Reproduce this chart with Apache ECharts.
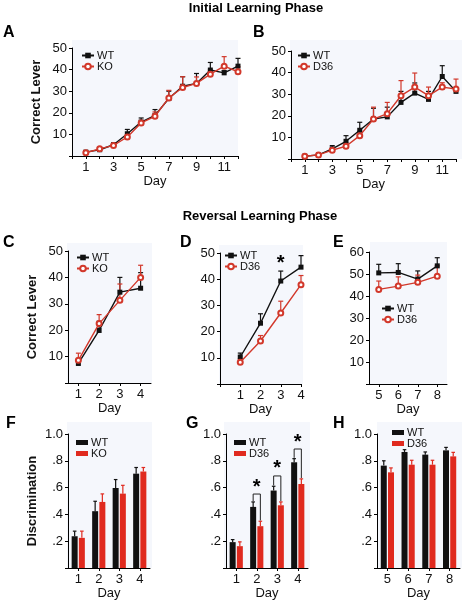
<!DOCTYPE html>
<html><head><meta charset="utf-8">
<script src="https://cdn.jsdelivr.net/npm/echarts@6/dist/echarts.min.js"></script>
<style>html,body{margin:0;padding:0;background:#fff}#c{width:464px;height:602px}</style>
</head><body><div id="c"></div>
<script>
// ---------- data ----------
const daysAB = [1,2,3,4,5,6,7,8,9,10,11,12];
const aWT    = [1.8,2.9,5.2,10.3,15.7,18.8,26.6,32.3,33.6,39.8,38.5,41.6];
const aWTerr = [0.5,0.4,0.8,2.0,1.9,2.7,3.4,4.4,4.6,3.5,1.0,3.6];
const aKO    = [1.5,3.3,4.9,8.8,15.3,18.4,26.9,31.7,33.6,37.9,41.6,39.0];
const aKOerr = [0.5,0.4,0.6,1.0,1.2,2.0,3.5,5.0,3.0,1.9,4.4,2.3];
const bWT    = [1.3,1.9,4.7,8.2,13.3,18.5,19.5,26.2,30.5,27.6,38.2,31.3];
const bWTerr = [0.3,0.3,1.5,2.6,3.7,5.0,4.5,5.1,4.7,3.7,5.0,1.0];
const bD36   = [1.3,1.9,4.1,5.9,10.8,18.5,21.0,29.3,33.3,29.3,33.3,32.4];
const bD36err= [0.3,0.3,0.8,1.6,2.0,5.5,5.2,7.0,6.5,4.0,2.0,4.6];
const revDays = ['1','2','3','4'];
const lateDays = ['5','6','7','8'];
const cWT    = [7.4,19.9,34.4,35.9];
const cWTerr = [1.0,3.5,5.6,5.9];
const cKO    = [8.6,22.5,31.3,40.0];
const cKOerr = [2.7,3.4,6.2,4.6];
const dDays  = [1,2,3,4];
const dWT    = [10.3,23.2,39.3,44.6];
const dWTerr = [1.5,3.6,3.8,4.4];
const dD36   = [8.3,16.4,27.1,37.9];
const dD36err= [1.3,2.1,4.5,3.5];
const dStar  = [[3,46]];
const eWT    = [50.5,50.7,47.7,53.7];
const eWTerr = [3.9,4.0,3.7,3.7];
const eD36   = [43.0,44.5,46.2,49.0];
const eD36err= [3.8,4.2,3.3,4.7];
const fWT    = [0.237,0.424,0.597,0.704];
const fWTerr = [0.038,0.074,0.063,0.046];
const fKO    = [0.225,0.493,0.555,0.720];
const fKOerr = [0.050,0.060,0.062,0.030];
const gWT    = [0.193,0.456,0.578,0.789];
const gWTerr = [0.019,0.037,0.032,0.027];
const gD36   = [0.163,0.312,0.468,0.627];
const gD36err= [0.032,0.037,0.025,0.038];
const gSigDay   = [1,2,3];            // category index of significant days
const gSigLevel = [0.552,0.687,0.888];
const hWT    = [0.764,0.866,0.846,0.878];
const hWTerr = [0.036,0.017,0.020,0.022];
const hD36   = [0.714,0.771,0.771,0.833];
const hD36err= [0.033,0.033,0.033,0.030];

// ---------- style ----------
const FONT = '"Liberation Sans", Arial, sans-serif';
const BLACK = '#111111';
const RED = '#d2382b';
const BARRED = '#e02a1f';
const BG = '#f5f7fc';
const BARW = 6, BARGAP = 1.2;

const grids = [
  {left:72,  top:48,  width:166, height:108},
  {left:291, top:51,  width:165, height:108},
  {left:68,  top:251, width:83,  height:132},
  {left:220, top:253, width:81,  height:131},
  {left:369, top:252, width:78,  height:132},
  {left:68,  top:434, width:82,  height:134},
  {left:226, top:434, width:82,  height:134},
  {left:377, top:434, width:83,  height:134}
];

function axisBase(gi, extra, fmt){
  const o = {
    gridIndex: gi,
    axisLine:{show:true, onZero:false, lineStyle:{color:'#000', width:1}},
    axisTick:{show:true, length:3, lineStyle:{color:'#000'}},
    axisLabel:{color:'#111', fontSize:13, fontFamily:FONT, margin:5},
    splitLine:{show:false},
    nameTextStyle:{color:'#111', fontSize:13, fontFamily:FONT}
  };
  if (fmt) o.axisLabel.formatter = fmt;
  return Object.assign(o, extra);
}
const oddOnly = v => (v % 2 === 1 ? String(v) : '');
const noZero = v => (v === 0 ? '' : String(v));
const discFmt = v => { const r = Math.round(v*10); if (r===0) return ''; if (r===10) return '1.0'; return '.' + r; };

const xAxes = [
  axisBase(0, {type:'value', min:0, max:12, interval:1, name:'Day', nameLocation:'middle', nameGap:18}, oddOnly),
  axisBase(1, {type:'value', min:0, max:12, interval:1, name:'Day', nameLocation:'middle', nameGap:18}, oddOnly),
  axisBase(2, {type:'category', data:revDays, boundaryGap:true, name:'Day', nameLocation:'middle', nameGap:17}),
  axisBase(3, {type:'value', min:0, max:4, interval:1, name:'Day', nameLocation:'middle', nameGap:17}, noZero),
  axisBase(4, {type:'category', data:lateDays, boundaryGap:true, name:'Day', nameLocation:'middle', nameGap:17}),
  axisBase(5, {type:'category', data:revDays, boundaryGap:true, name:'Day', nameLocation:'middle', nameGap:17}),
  axisBase(6, {type:'category', data:revDays, boundaryGap:true, name:'Day', nameLocation:'middle', nameGap:17}),
  axisBase(7, {type:'category', data:lateDays, boundaryGap:true, name:'Day', nameLocation:'middle', nameGap:17})
];
xAxes.forEach(a => { if (a.type === 'category') { a.axisTick.alignWithLabel = true; } });

const yAxes = [
  axisBase(0, {type:'value', min:0, max:50, interval:10, name:'Correct Lever', nameLocation:'middle', nameGap:29, nameTextStyle:{fontWeight:'bold', fontSize:13, fontFamily:FONT, color:'#111'}}, noZero),
  axisBase(1, {type:'value', min:0, max:50, interval:10}, noZero),
  axisBase(2, {type:'value', min:0, max:50, interval:10, name:'Correct Lever', nameLocation:'middle', nameGap:29, nameTextStyle:{fontWeight:'bold', fontSize:13, fontFamily:FONT, color:'#111'}}, noZero),
  axisBase(3, {type:'value', min:0, max:50, interval:10}, noZero),
  axisBase(4, {type:'value', min:0, max:60, interval:10}, noZero),
  axisBase(5, {type:'value', min:0, max:1, interval:0.2, name:'Discrimination', nameLocation:'middle', nameGap:29, nameTextStyle:{fontWeight:'bold', fontSize:13, fontFamily:FONT, color:'#111'}}, discFmt),
  axisBase(6, {type:'value', min:0, max:1, interval:0.2}, discFmt),
  axisBase(7, {type:'value', min:0, max:1, interval:0.2}, discFmt)
];

// ---------- series builders ----------
function lineSeries(name, gi, xs, ys, isWT){
  const data = xs ? ys.map((v,i)=>[xs[i], v]) : ys.slice();
  return {
    type:'line', name, xAxisIndex:gi, yAxisIndex:gi, data,
    symbol: isWT ? 'rect' : 'emptyCircle', symbolSize: 5,
    lineStyle:{color: isWT ? BLACK : RED, width:1.4},
    itemStyle:{color: isWT ? BLACK : RED, borderWidth: isWT ? 0 : 1.1},
    z: isWT ? 4 : 5, animation:false
  };
}
function errSeries(gi, xs, ys, es, color, capHalf, offset, z){
  const data = ys.map((v,i)=>[xs ? xs[i] : i, v, es[i]]);
  return {
    type:'custom', name:'_err', xAxisIndex:gi, yAxisIndex:gi, data, z: z||3,
    encode:{x:0, y:1}, silent:true, animation:false,
    renderItem:function(params, api){
      const x = api.value(0), m = api.value(1), e = api.value(2);
      const p0 = api.coord([x, m]), p1 = api.coord([x, m+e]);
      const cx = p0[0] + (offset||0);
      const st = {stroke:color, lineWidth:1.2};
      return {type:'group', children:[
        {type:'line', shape:{x1:cx, y1:p0[1], x2:cx, y2:p1[1]}, style:st},
        {type:'line', shape:{x1:cx-capHalf, y1:p1[1], x2:cx+capHalf, y2:p1[1]}, style:st}
      ]};
    }
  };
}
function barSeries(name, gi, ys, color){
  return {type:'bar', name, xAxisIndex:gi, yAxisIndex:gi, data:ys.slice(),
    barWidth:BARW, barGap:'20%', itemStyle:{color}, animation:false, z:2};
}

const OFF = (BARW + BARGAP)/2;
const series = [];
// A
series.push(errSeries(0, daysAB, aWT, aWTerr, BLACK, 2.5));
series.push(errSeries(0, daysAB, aKO, aKOerr, RED, 2.5));
series.push(lineSeries('WT|A', 0, daysAB, aWT, true));
series.push(lineSeries('KO|A', 0, daysAB, aKO, false));
// B
series.push(errSeries(1, daysAB, bWT, bWTerr, BLACK, 2.5));
series.push(errSeries(1, daysAB, bD36, bD36err, RED, 2.5));
series.push(lineSeries('WT|B', 1, daysAB, bWT, true));
series.push(lineSeries('D36|B', 1, daysAB, bD36, false));
// C
series.push(errSeries(2, null, cWT, cWTerr, BLACK, 2.5));
series.push(errSeries(2, null, cKO, cKOerr, RED, 2.5));
series.push(lineSeries('WT|C', 2, null, cWT, true));
series.push(lineSeries('KO|C', 2, null, cKO, false));
// D
series.push(errSeries(3, dDays, dWT, dWTerr, BLACK, 2.5));
series.push(errSeries(3, dDays, dD36, dD36err, RED, 2.5));
series.push(lineSeries('WT|D', 3, dDays, dWT, true));
series.push(lineSeries('D36|D', 3, dDays, dD36, false));
series.push({type:'custom', name:'_star', xAxisIndex:3, yAxisIndex:3, data:dStar, encode:{x:0,y:1}, silent:true, animation:false, z:6,
  renderItem:function(params, api){
    const p = api.coord([api.value(0), api.value(1)]);
    return {type:'text', style:{text:'*', x:p[0], y:p[1], align:'center', verticalAlign:'middle', fontSize:20, fontWeight:'bold', fontFamily:FONT, fill:'#000'}};
  }});
// E
series.push(errSeries(4, null, eWT, eWTerr, BLACK, 2.5));
series.push(errSeries(4, null, eD36, eD36err, RED, 2.5));
series.push(lineSeries('WT|E', 4, null, eWT, true));
series.push(lineSeries('D36|E', 4, null, eD36, false));
// F
series.push(barSeries('WT|F', 5, fWT, BLACK));
series.push(barSeries('KO|F', 5, fKO, BARRED));
series.push(errSeries(5, null, fWT, fWTerr, BLACK, 1.8, -OFF));
series.push(errSeries(5, null, fKO, fKOerr, BARRED, 1.8, OFF));
// G
series.push(barSeries('WT|G', 6, gWT, BLACK));
series.push(barSeries('D36|G', 6, gD36, BARRED));
series.push(errSeries(6, null, gWT, gWTerr, BLACK, 1.8, -OFF));
series.push(errSeries(6, null, gD36, gD36err, BARRED, 1.8, OFF));
series.push({type:'custom', name:'_bracket', xAxisIndex:6, yAxisIndex:6,
  data: gSigDay.map((d,i)=>[d, gSigLevel[i], gWT[d]+gWTerr[d], gD36[d]+gD36err[d]]),
  encode:{x:0,y:1}, silent:true, animation:false, z:6,
  renderItem:function(params, api){
    const d = api.value(0), lv = api.value(1);
    const c = api.coord([d, lv]);
    const yl = api.coord([d, api.value(2)+0.006])[1];
    const yr = api.coord([d, api.value(3)+0.006])[1];
    const xl = c[0]-OFF, xr = c[0]+OFF;
    const s = api.coord([d, lv+0.052]);
    return {type:'group', children:[
      {type:'polyline', shape:{points:[[xl,yl],[xl,c[1]],[xr,c[1]],[xr,yr]]}, style:{stroke:'#222', lineWidth:1, fill:null}},
      {type:'text', style:{text:'*', x:s[0], y:s[1], align:'center', verticalAlign:'middle', fontSize:20, fontWeight:'bold', fontFamily:FONT, fill:'#000'}}
    ]};
  }});
// H
series.push(barSeries('WT|H', 7, hWT, BLACK));
series.push(barSeries('D36|H', 7, hD36, BARRED));
series.push(errSeries(7, null, hWT, hWTerr, BLACK, 1.8, -OFF));
series.push(errSeries(7, null, hD36, hD36err, BARRED, 1.8, OFF));

// ---------- legends ----------
const legFmt = n => n.split('|')[0];
function leg(names, left, top, isBar){
  return {
    data:names, left, top, orient:'vertical', selectedMode:false,
    itemWidth: 12, itemHeight: isBar ? 5 : 7, itemGap: 0,
    icon: isBar ? 'rect' : undefined,
    formatter: legFmt,
    textStyle:{fontSize:11, fontFamily:FONT, color:'#111', lineHeight:11, padding:[0,0,0,-2]},
    padding:0
  };
}
const legends = [
  leg(['WT|A','KO|A'], 81, 50),
  leg(['WT|B','D36|B'], 297, 50),
  leg(['WT|C','KO|C'], 76, 252),
  leg(['WT|D','D36|D'], 224, 250),
  leg(['WT|E','D36|E'], 381, 303),
  leg(['WT|F','KO|F'], 76, 437, true),
  leg(['WT|G','D36|G'], 234, 437, true),
  leg(['WT|H','D36|H'], 392, 427, true)
];

// ---------- decorations ----------
const bgRects = [
  [72,40,166,116],[290,40,172,119],[67,243,85,140],[219,245,84,139],
  [370,242,77,142],[67,422,85,146],[224,422,86,146],[377,422,85,146]
];
const letters = [['A',3,33],['B',253,33],['C',3,243],['D',180,243],['E',333,243],['F',6,424],['G',186,424],['H',333,424]];
const graphics = [];
bgRects.forEach(r => graphics.push({type:'rect', z:-100, silent:true, shape:{x:r[0],y:r[1],width:r[2],height:r[3]}, style:{fill:BG}}));
letters.forEach(l => graphics.push({type:'text', x:l[1], y:l[2], style:{text:l[0], fontSize:16, fontWeight:'bold', fontFamily:FONT, fill:'#000', verticalAlign:'middle', align:'left'}}));
graphics.push({type:'text', x:256, y:8, style:{text:'Initial Learning Phase', fontSize:13, fontWeight:'bold', fontFamily:FONT, fill:'#000', align:'center', verticalAlign:'middle'}});
graphics.push({type:'text', x:260, y:216, style:{text:'Reversal Learning Phase', fontSize:13, fontWeight:'bold', fontFamily:FONT, fill:'#000', align:'center', verticalAlign:'middle'}});

const chart = echarts.init(document.getElementById('c'), null, {renderer:'canvas'});
chart.setOption({
  animation:false,
  backgroundColor:'#fff',
  textStyle:{fontFamily:FONT},
  grid: grids.map(g => Object.assign({containLabel:false}, g)),
  xAxis: xAxes,
  yAxis: yAxes,
  legend: legends,
  graphic: graphics,
  series: series
});
</script>
</body></html>
